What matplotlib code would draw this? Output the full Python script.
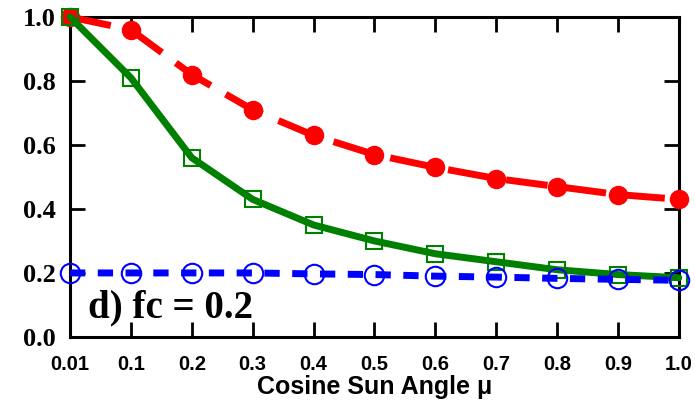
import matplotlib
matplotlib.use("Agg")
import matplotlib.pyplot as plt
import numpy as np

mu_labels = ["0.01", "0.1", "0.2", "0.3", "0.4", "0.5", "0.6", "0.7", "0.8", "0.9", "1.0"]
red_vals = [1.0, 0.96, 0.82, 0.71, 0.63, 0.57, 0.53, 0.495, 0.47, 0.445, 0.43]
green_vals = [1.0, 0.81, 0.56, 0.43, 0.35, 0.30, 0.26, 0.235, 0.21, 0.195, 0.185]
blue_vals = [0.2, 0.2, 0.2, 0.2, 0.197, 0.195, 0.19, 0.187, 0.183, 0.18, 0.177]
y_ticks = [0.0, 0.2, 0.4, 0.6, 0.8, 1.0]

fig = plt.figure(figsize=(6.95, 4.04), dpi=100)
ax = fig.add_axes([0.1007, 0.166, 0.876, 0.792])

x = np.arange(len(mu_labels))

ax.plot(x, red_vals, color="#ff0000", lw=5, dashes=(6, 2.5),
        marker="o", ms=13, mfc="#ff0000", mec="#ff0000", clip_on=False, zorder=3)
ax.plot(x, green_vals, color="#008000", lw=5, solid_capstyle="round",
        marker="s", ms=12, mfc="none", mec="#008000", mew=1.5, clip_on=False, zorder=4)
ax.plot(x, blue_vals, color="#0000ff", lw=5, dashes=(2.2, 1.8),
        marker="o", ms=14, mfc="none", mec="#0000ff", mew=1.5, clip_on=False, zorder=5)

ax.set_xlim(0, len(mu_labels) - 1)
ax.set_ylim(0, 1.0)
ax.set_xticks(x)
ax.set_xticklabels(mu_labels, fontfamily="Liberation Sans", fontweight="bold", fontsize=14.5)
ax.set_yticks(y_ticks)
ax.set_yticklabels([f"{v:.1f}" for v in y_ticks], fontfamily="Liberation Serif",
                   fontweight="bold", fontsize=19)
ax.tick_params(direction="in", length=11, width=2, top=True, right=True)
ax.tick_params(axis="x", pad=13)
ax.tick_params(axis="y", pad=10)
for s in ax.spines.values():
    s.set_linewidth(2.2)

ax.set_xlabel("Cosine Sun Angle \u03bc", fontfamily="Liberation Sans", fontweight="bold",
              fontsize=18, labelpad=1)
ax.text(0.03, 0.06, "d) fc = 0.2", transform=ax.transAxes, fontfamily="Liberation Serif",
        fontweight="bold", fontsize=28, va="baseline", ha="left")

fig.savefig("out.png", dpi=100)
